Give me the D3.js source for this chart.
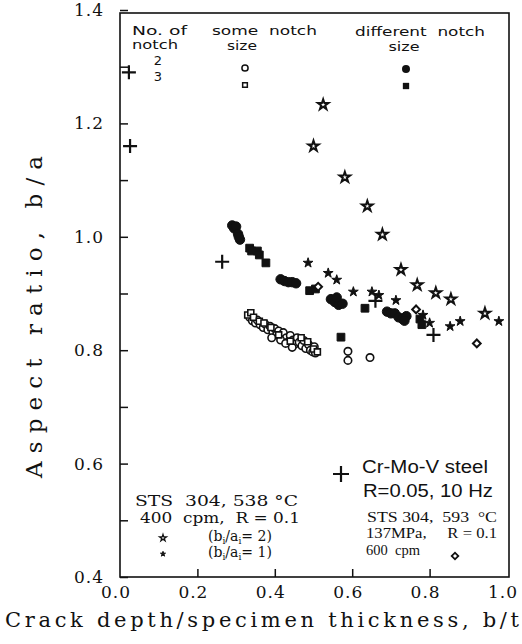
<!DOCTYPE html>
<html><head><meta charset="utf-8">
<script src="https://cdn.jsdelivr.net/npm/d3@7"></script>
<style>body{margin:0;background:#fff}svg{display:block}</style>
</head><body>
<svg id="c" width="522" height="644"></svg>
<script>
// ---- data ----
const xTickValues = [0, 0.2, 0.4, 0.6, 0.8, 1.0];
const yTickValues = [0.4, 0.6, 0.8, 1.0, 1.2, 1.4];
const yMinorTicks = [0.5, 0.7, 0.9, 1.1, 1.3];
const xMinorTicks = [0.2, 0.4, 0.6, 0.8];

// 2 notches, same size (open circle)
const openCircles = [[0.335,0.858],[0.342,0.852],[0.35,0.848],[0.355,0.853],[0.362,0.845],[0.37,0.840],[0.375,0.846],[0.382,0.836],[0.388,0.842],[0.395,0.832],[0.40,0.838],[0.405,0.828],[0.41,0.834],[0.418,0.825],[0.422,0.831],[0.43,0.822],[0.435,0.815],[0.44,0.826],[0.447,0.818],[0.452,0.811],[0.458,0.822],[0.463,0.814],[0.47,0.808],[0.475,0.817],[0.48,0.803],[0.487,0.81],[0.492,0.80],[0.498,0.797],[0.505,0.795],[0.502,0.806],[0.392,0.822],[0.415,0.818],[0.428,0.812],[0.445,0.805],[0.589,0.798],[0.589,0.782],[0.646,0.787]];
// 3 notches, same size (open square)
const openSquares = [[0.33,0.862],[0.338,0.866],[0.345,0.858],[0.36,0.851],[0.372,0.848],[0.39,0.84],[0.41,0.827],[0.44,0.816],[0.468,0.822],[0.485,0.815],[0.5,0.802],[0.51,0.797]];
// 2 notches, different size (filled circle)
const filledCircles = [[0.29,1.02],[0.295,1.015],[0.30,1.018],[0.305,1.005],[0.31,0.995],[0.307,1.0],[0.415,0.925],[0.425,0.922],[0.435,0.92],[0.445,0.92],[0.455,0.918],[0.545,0.89],[0.555,0.885],[0.565,0.88],[0.575,0.882],[0.56,0.893],[0.69,0.868],[0.70,0.865],[0.71,0.865],[0.72,0.858],[0.73,0.855],[0.74,0.86],[0.735,0.852]];
// 3 notches, different size (filled square)
const filledSquares = [[0.335,0.98],[0.34,0.975],[0.355,0.975],[0.36,0.968],[0.377,0.954],[0.49,0.905],[0.505,0.908],[0.633,0.874],[0.571,0.823],[0.775,0.855],[0.78,0.845]];
// STS 304 538C, bi/ai = 2 (open star)
const openStars = [[0.525,1.233],[0.50,1.16],[0.581,1.105],[0.639,1.054],[0.678,1.004],[0.726,0.942],[0.768,0.915],[0.816,0.901],[0.855,0.890],[0.943,0.865]];
// STS 304 538C, bi/ai = 1 (filled star)
const filledStars = [[0.486,0.954],[0.538,0.936],[0.560,0.924],[0.603,0.903],[0.651,0.903],[0.669,0.897],[0.713,0.888],[0.783,0.862],[0.80,0.848],[0.853,0.842],[0.879,0.851],[0.979,0.851]];
// STS 304 593C (open diamond)
const openDiamonds = [[0.512,0.912],[0.765,0.872],[0.922,0.812]];
// Cr-Mo-V steel (+)
const crosses = [[0.023,1.29],[0.026,1.16],[0.264,0.956],[0.66,0.887],[0.81,0.827]];

// ---- chart ----
const svg = d3.select('#c');
const x = d3.scaleLinear().domain([0, 1]).range([120, 507]);
const y = d3.scaleLinear().domain([0.4, 1.4]).range([577, 10]);
const ink = '#111';

// frame
svg.append('rect').attr('x', x(0)).attr('y', 13).attr('width', x(1) + 2 - x(0)).attr('height', y(0.4) - 13)
  .attr('fill', 'none').attr('stroke', ink).attr('stroke-width', 1.6);

// ticks (inward)
const gy = svg.append('g').attr('transform', `translate(${x(0)},0)`)
  .call(d3.axisLeft(y).tickValues(yTickValues.concat(yMinorTicks)).tickSize(-8).tickFormat(''));
gy.select('.domain').remove();
gy.selectAll('line').attr('stroke', ink).attr('stroke-width', 1.5);
const gx = svg.append('g').attr('transform', `translate(0,${y(0.4)})`)
  .call(d3.axisBottom(x).tickValues(xMinorTicks).tickSize(-8).tickFormat(''));
gx.select('.domain').remove();
gx.selectAll('line').attr('stroke', ink).attr('stroke-width', 1.5);

// tick labels
const lblFont = 'DejaVu Serif';
svg.append('g').selectAll('text').data(yTickValues).join('text')
  .attr('x', 104).attr('y', d => y(d) + 6).attr('text-anchor', 'end')
  .attr('font-family', lblFont).attr('font-size', 17).attr('letter-spacing', 1).attr('fill', ink)
  .text(d => d3.format('.1f')(d));
svg.append('g').selectAll('text').data(xTickValues).join('text')
  .attr('x', d => x(d) - 4).attr('y', 598).attr('text-anchor', 'middle')
  .attr('font-family', lblFont).attr('font-size', 17).attr('letter-spacing', 1).attr('fill', ink)
  .text(d => d3.format('.1f')(d));

// axis titles
svg.append('text').attr('x', 5).attr('y', 627).attr('font-family', lblFont).attr('font-size', 21)
  .attr('textLength', 514).attr('lengthAdjust', 'spacing').attr('fill', ink)
  .text('Crack depth/specimen thickness, b/t');
svg.append('text').attr('transform', 'translate(42,478) rotate(-90)').attr('font-family', lblFont).attr('font-size', 23)
  .attr('textLength', 322).attr('lengthAdjust', 'spacing').attr('fill', ink)
  .text('Aspect ratio, b/a');

// marker helpers
const sym = (type, size) => d3.symbol().type(type).size(size)();
const plusPath = (h) => `M${-h},0H${h}M0,${-h}V${h}`;
function draw(data, path, fill, stroke, sw, rot) {
  svg.append('g').selectAll('path').data(data).join('path')
    .attr('transform', d => `translate(${x(d[0])},${y(d[1])})` + (rot ? ` rotate(${rot})` : ''))
    .attr('d', path).attr('fill', fill).attr('stroke', stroke).attr('stroke-width', sw);
}
draw(openCircles, sym(d3.symbolCircle, 44), '#fff', ink, 1.6);
draw(openSquares, sym(d3.symbolSquare, 36), '#fff', ink, 1.6);
draw(filledCircles, sym(d3.symbolCircle, 70), ink, ink, 1);
draw(filledSquares, sym(d3.symbolSquare, 60), ink, ink, 1);
draw(openStars, sym(d3.symbolStar, 34), '#fff', ink, 2);
draw(filledStars, sym(d3.symbolStar, 30), ink, ink, 1);
draw(openDiamonds, sym(d3.symbolSquare, 30), '#fff', ink, 2, 45);
draw(crosses, plusPath(7), 'none', ink, 2.2);

// top legend
const gFont = 'DejaVu Sans';
function t(str, xx, yy, opt = {}) {
  const e = svg.append('text').attr('x', xx).attr('y', yy).attr('fill', ink)
    .attr('font-family', opt.font || gFont).attr('font-size', opt.size || 13)
    .attr('text-anchor', opt.anchor || 'start').attr('xml:space', 'preserve');
  if (opt.len) e.attr('textLength', opt.len).attr('lengthAdjust', 'spacingAndGlyphs');
  e.text(str);
  return e;
}
t('No. of', 132, 35, {len: 55});
t('notch', 132, 49, {len: 46});
t('2', 158, 65, {anchor: 'middle', size: 13});
t('3', 158, 81, {anchor: 'middle', size: 13});
t('some  notch', 212, 35, {len: 105});
t('size', 242, 50, {anchor: 'middle', len: 30});
t('different  notch', 355, 36, {len: 130});
t('size', 404, 51, {anchor: 'middle', len: 31});
svg.append('path').attr('transform', 'translate(245,68)').attr('d', sym(d3.symbolCircle, 30)).attr('fill', '#fff').attr('stroke', ink).attr('stroke-width', 1.5);
svg.append('path').attr('transform', 'translate(245,85)').attr('d', sym(d3.symbolSquare, 22)).attr('fill', '#fff').attr('stroke', ink).attr('stroke-width', 1.5);
svg.append('path').attr('transform', 'translate(406,69)').attr('d', sym(d3.symbolCircle, 50)).attr('fill', ink);
svg.append('path').attr('transform', 'translate(406,86)').attr('d', sym(d3.symbolSquare, 40)).attr('fill', ink);

// bottom-left legend
const sFont = 'DejaVu Serif';
t('STS  304, 538 °C', 135, 506, {font: sFont, size: 14, len: 163});
t('400  cpm,  R = 0.1', 140, 523, {font: sFont, size: 14, len: 160});
function ratio(val, yy) {
  const e = t('', 208, yy, {font: sFont, size: 14});
  e.append('tspan').text('(b');
  e.append('tspan').attr('font-size', 9).attr('dy', 3).text('i');
  e.append('tspan').attr('dy', -3).text('/a');
  e.append('tspan').attr('font-size', 9).attr('dy', 3).text('i');
  e.append('tspan').attr('dy', -3).text('= ' + val + ')');
}
ratio(2, 541);
ratio(1, 557);
svg.append('path').attr('transform', 'translate(163,538)').attr('d', sym(d3.symbolStar, 14)).attr('fill', '#fff').attr('stroke', ink).attr('stroke-width', 1.3);
svg.append('path').attr('transform', 'translate(163,554)').attr('d', sym(d3.symbolStar, 8)).attr('fill', ink).attr('stroke', ink).attr('stroke-width', 1);

// bottom-right legend
svg.append('path').attr('transform', 'translate(341,474)').attr('d', plusPath(8)).attr('stroke', ink).attr('stroke-width', 2.2);
t('Cr-Mo-V steel', 362, 473, {font: 'Liberation Sans', size: 18, len: 126});
t('R=0.05, 10 Hz', 363, 497, {font: 'Liberation Sans', size: 18, len: 130});
t('STS 304,  593  °C', 367, 522, {font: 'Liberation Serif', size: 15, len: 130});
t('137MPa,     R = 0.1', 366, 538, {font: 'Liberation Serif', size: 15, len: 131});
t('600  cpm', 366, 555, {font: 'Liberation Serif', size: 15, len: 54});
svg.append('path').attr('transform', 'translate(455,556) rotate(45)').attr('d', sym(d3.symbolSquare, 22)).attr('fill', '#fff').attr('stroke', ink).attr('stroke-width', 1.8);
</script>
</body></html>
